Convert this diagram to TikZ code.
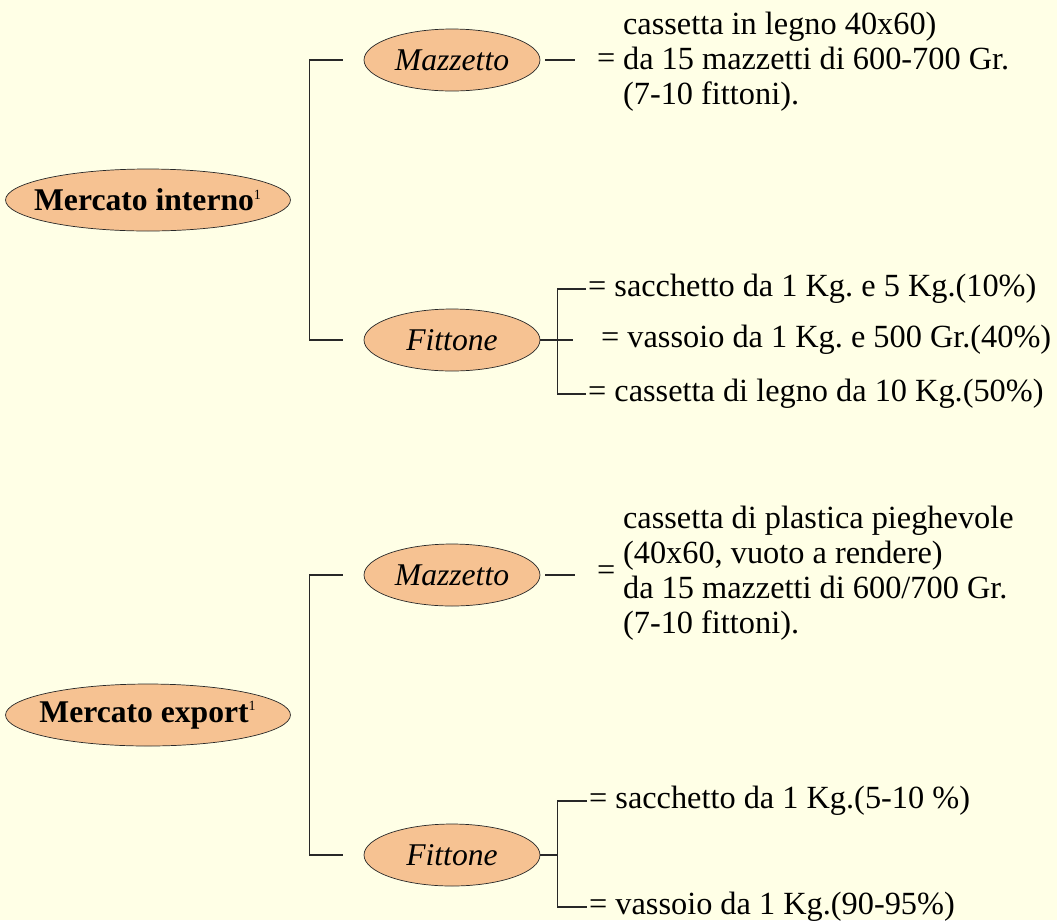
\documentclass[tikz,border=0pt]{standalone}
\usepackage{fontspec}
\setmainfont{Liberation Serif}
\usetikzlibrary{shapes.geometric}
\definecolor{sfondo}{RGB}{255,255,230}
\definecolor{pesca}{RGB}{246,194,146}
\definecolor{tratto}{RGB}{40,40,40}
\frenchspacing

\begin{document}
\begin{tikzpicture}[x=0.02cm,y=-0.02cm,
  grande/.style={ellipse, draw=tratto, fill=pesca, inner xsep=-0.3cm, inner ysep=0pt, minimum width=5.7cm, minimum height=1.24cm, font=\fontsize{18}{20}\selectfont\bfseries},
  piccolo/.style={ellipse, draw=tratto, fill=pesca, inner sep=0pt, minimum width=3.52cm, minimum height=1.24cm, font=\fontsize{18}{20}\selectfont\itshape},
  testo/.style={anchor=west, inner xsep=1pt, inner ysep=0pt, align=left, font=\fontsize{18.4}{20}\selectfont},
  linea/.style={draw=tratto, line width=0.7pt}]
 \useasboundingbox (0,0) rectangle (1057,920);
 \fill [sfondo] (0,0) rectangle (1057,920);

 % mercato interno
 \node [grande] (mi) at (148,200) {Mercato interno\textsuperscript{\mdseries\fontsize{8}{8}\selectfont 1}};
 \node [piccolo] (mz1) at (452,60) {Mazzetto};
 \node [piccolo] (ft1) at (452,340) {Fittone};
 \node [testo] (uguale1) at (595,61) {=};
 \node [testo] (bl1) at (621,62) {cassetta in legno 40x60)\\da 15 mazzetti di 600-700 Gr.\\(7-10 fittoni).};
 \node [testo] (s1) at (586,289) {= sacchetto da 1 Kg. e 5 Kg.(10\%)};
 \node [testo] (s2) at (599,340) {= vassoio da 1 Kg. e 500 Gr.(40\%)};
 \node [testo] (s3) at (586,394) {= cassetta di legno da 10 Kg.(50\%)};
 \coordinate (nodo1) at ([xshift=0.34cm]ft1.east);

 \draw [linea] ([xshift=-0.42cm]mz1.west) -- ++(-33,0) |- ([xshift=-0.42cm]ft1.west);
 \draw [linea] ([xshift=0.1cm]mz1.east) -- ++(30,0);
 \draw [linea] (ft1.east) -- ++(33,0);
 \draw [linea] (s1.west) -| (nodo1) |- (s3.west);

 % mercato export
 \node [grande] (me) at (148,715) {Mercato export\textsuperscript{\mdseries\fontsize{8}{8}\selectfont 1}};
 \node [piccolo] (mz2) at (452,575) {Mazzetto};
 \node [piccolo] (ft2) at (452,855) {Fittone};
 \node [testo] (uguale2) at (595,573) {=};
 \node [testo] (bl2) at (621,573) {cassetta di plastica pieghevole\\(40x60, vuoto a rendere)\\da 15 mazzetti di 600/700 Gr.\\(7-10 fittoni).};
 \node [testo] (s4) at (587,801) {= sacchetto da 1 Kg.(5-10 \%)};
 \node [testo] (s5) at (587,907) {= vassoio da 1 Kg.(90-95\%)};
 \coordinate (nodo2) at ([xshift=0.34cm]ft2.east);

 \draw [linea] ([xshift=-0.42cm]mz2.west) -- ++(-33,0) |- ([xshift=-0.42cm]ft2.west);
 \draw [linea] ([xshift=0.1cm]mz2.east) -- ++(30,0);
 \draw [linea] (ft2.east) -- (nodo2);
 \draw [linea] (s4.west) -| (nodo2) |- (s5.west);
\end{tikzpicture}
\end{document}
